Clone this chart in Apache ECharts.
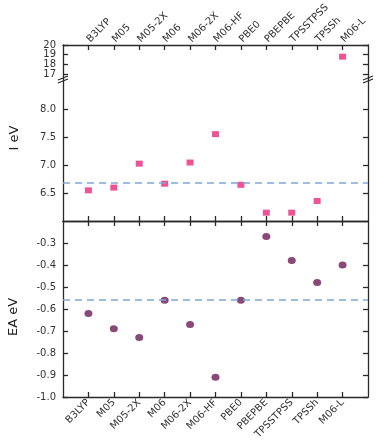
<!DOCTYPE html>
<html>
<head>
<meta charset="utf-8">
<script src="https://cdn.jsdelivr.net/npm/echarts@6/dist/echarts.min.js"></script>
<style>html,body{margin:0;padding:0;background:#fff}#c{width:388px;height:443px}</style>
</head>
<body>
<div id="c"></div>
<script>
// ---- data ----
const categories = ['B3LYP','M05','M05-2X','M06','M06-2X','M06-HF','PBE0','PBEPBE','TPSSTPSS','TPSSh','M06-L'];
const ionization = [6.55, 6.60, 7.03, 6.67, 7.05, 7.56, 6.65, 6.15, 6.15, 6.36, 18.8];
const electronAffinity = [-0.62, -0.69, -0.73, -0.56, -0.67, -0.91, -0.56, -0.27, -0.38, -0.48, -0.40];
const ionizationRef = 6.69;
const electronAffinityRef = -0.56;
const ticksIHigh = [17, 18, 19, 20];
const ticksILow = [6.5, 7.0, 7.5, 8.0];
const ticksEA = [-1.0, -0.9, -0.8, -0.7, -0.6, -0.5, -0.4, -0.3];
const breakLow = 8.55, breakHigh = 16.5;

const catPositions = categories.map((c, i) => i + 1);
const lowPts = [], highPts = [];
ionization.forEach((v, i) => { (v > breakLow ? highPts : lowPts).push([i + 1, v]); });
const eaPts = electronAffinity.map((v, i) => [i + 1, v]);
// upper segment labels are tightly packed: split over two overlaid axes so none get hidden
const highLabelsA = ticksIHigh.filter((v, i) => i % 2 === 0);
const highLabelsB = ticksIHigh.filter((v, i) => i % 2 === 1);

const FONT = 'DejaVu Sans';
const axisColor = '#2a2a2a';
const lineStyle = { color: axisColor, width: 1.3 };

function xAxis(grid, position, labels, rot) {
  return {
    type: 'value', gridIndex: grid, position: position, min: 0, max: 12,
    axisLine: { show: true, onZero: false, lineStyle: lineStyle },
    axisTick: { show: true, inside: true, length: 5, customValues: catPositions, lineStyle: lineStyle },
    axisLabel: labels ? {
      show: true, rotate: rot, margin: 4, customValues: catPositions, hideOverlap: false,
      formatter: v => categories[Math.round(v) - 1] || '',
      fontFamily: FONT, fontSize: 10, color: '#333'
    } : { show: false },
    splitLine: { show: false }
  };
}
function yAxis(grid, position, min, max, ticks, labelValues, fmt, showLine) {
  return {
    type: 'value', gridIndex: grid, position: position, min: min, max: max,
    axisLine: { show: showLine !== false, onZero: false, lineStyle: lineStyle },
    axisTick: { show: showLine !== false, inside: true, length: 5, customValues: ticks, lineStyle: lineStyle },
    axisLabel: labelValues ? {
      show: true, margin: 7, customValues: labelValues, formatter: fmt, hideOverlap: false,
      showMinLabel: true, showMaxLabel: true,
      fontFamily: FONT, fontSize: 10, color: '#333'
    } : { show: false },
    splitLine: { show: false }
  };
}

const dash = { color: '#7fa9d6', width: 1.6, type: [7, 5] };
const chart = echarts.init(document.getElementById('c'), null, { renderer: 'canvas' });

chart.setOption({
  animation: false,
  grid: [
    { left: 63, right: 20, top: 45, height: 34 },
    { left: 63, right: 20, top: 79, height: 142 },
    { left: 63, right: 20, top: 221, height: 176 }
  ],
  xAxis: [
    xAxis(0, 'top', true, -45),
    xAxis(1, 'bottom', false),
    xAxis(2, 'top', false),
    xAxis(2, 'bottom', true, 45)
  ],
  yAxis: [
    yAxis(0, 'left', breakHigh, 20, ticksIHigh, highLabelsA, v => String(v)),
    yAxis(0, 'right', breakHigh, 20, ticksIHigh, null),
    yAxis(0, 'left', breakHigh, 20, ticksIHigh, highLabelsB, v => String(v), false),
    yAxis(1, 'left', 6.0, breakLow, ticksILow, ticksILow, v => v.toFixed(1)),
    yAxis(1, 'right', 6.0, breakLow, ticksILow, null),
    yAxis(2, 'left', -1.0, -0.2, ticksEA, ticksEA, v => v.toFixed(1)),
    yAxis(2, 'right', -1.0, -0.2, ticksEA, null)
  ],
  series: [
    {
      type: 'scatter', xAxisIndex: 0, yAxisIndex: 0, data: highPts,
      symbol: 'rect', symbolSize: [7, 6], itemStyle: { color: '#e8287a' }
    },
    {
      type: 'scatter', xAxisIndex: 1, yAxisIndex: 3, data: lowPts,
      symbol: 'rect', symbolSize: [7, 6], itemStyle: { color: '#e8287a' },
      markLine: { silent: true, symbol: 'none', label: { show: false }, lineStyle: dash, data: [{ yAxis: ionizationRef }] },
      z: 3
    },
    {
      type: 'scatter', xAxisIndex: 3, yAxisIndex: 5, data: eaPts,
      symbol: 'circle', symbolSize: [8, 7], itemStyle: { color: '#6a1b58' },
      markLine: { silent: true, symbol: 'none', label: { show: false }, lineStyle: dash, data: [{ yAxis: electronAffinityRef }] },
      z: 3
    }
  ],
  graphic: [
    { type: 'text', x: 15, y: 138, rotation: Math.PI / 2,
      style: { text: 'I eV', font: '13px "DejaVu Sans"', fill: '#222', align: 'center', verticalAlign: 'middle' } },
    { type: 'text', x: 14, y: 317, rotation: Math.PI / 2,
      style: { text: 'EA eV', font: '13px "DejaVu Sans"', fill: '#222', align: 'center', verticalAlign: 'middle' } },
    { type: 'line', shape: { x1: 58, y1: 80, x2: 68, y2: 76 }, style: { stroke: axisColor, lineWidth: 1.2 }, z: 100 },
    { type: 'line', shape: { x1: 58, y1: 83, x2: 68, y2: 79 }, style: { stroke: axisColor, lineWidth: 1.2 }, z: 100 },
    { type: 'line', shape: { x1: 363, y1: 80, x2: 373, y2: 76 }, style: { stroke: axisColor, lineWidth: 1.2 }, z: 100 },
    { type: 'line', shape: { x1: 363, y1: 83, x2: 373, y2: 79 }, style: { stroke: axisColor, lineWidth: 1.2 }, z: 100 }
  ]
});
</script>
</body>
</html>
